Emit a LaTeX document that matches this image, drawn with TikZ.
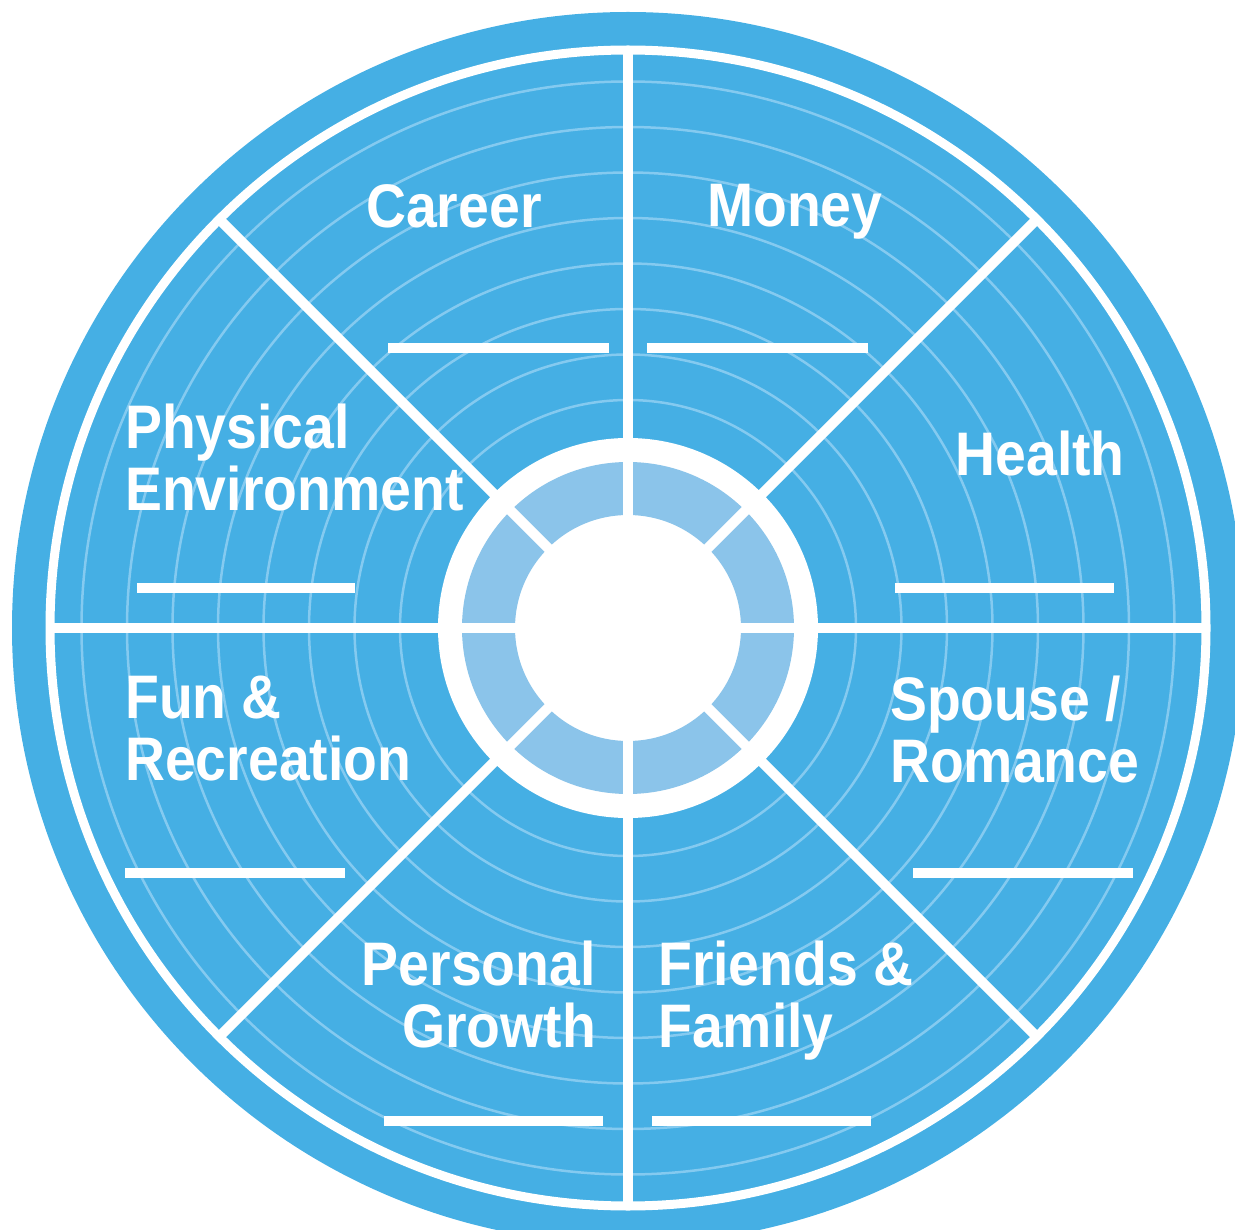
\documentclass[tikz,border=0pt]{standalone}
\usepackage{fontspec}
\newfontfamily\wheelfont[FakeStretch=0.9]{Liberation Sans}
\usetikzlibrary{positioning}
\definecolor{wheelblue}{RGB}{69,175,228}
\definecolor{hubblue}{RGB}{139,196,234}
\definecolor{ringblue}{RGB}{132,202,240}

\begin{document}
\begin{tikzpicture}[x=1pt, y=-1pt,
    area/.style={text=white, inner sep=0pt, font=\wheelfont\bfseries\fontsize{61.5}{62}\selectfont},
    spoke/.style={draw=white, line width=10pt},
    blank/.style={draw=white, line width=10pt}]
        \useasboundingbox (0,0) rectangle (1235,1230);
        \clip (0,0) rectangle (1235,1230);
        \coordinate (o) at (628,628);

        % disc and faint scale rings
        \fill[wheelblue] (o) circle (616);
        \foreach \k in {0,...,7}
            \draw[ringblue, line width=2.5pt] (o) circle ({228+45.5*\k});
        \draw[white, line width=9pt] (o) circle (578);

        % hub
        \fill[white] (o) circle (190);
        \fill[hubblue, even odd rule] (o) circle (166) (o) circle (113);
        \foreach \a in {0,45,...,315} \draw[spoke] (o) -- ++(\a:578);

        % area names
        \node[area, anchor=north west] (career) at (366,184) {Career};
        \node[area, anchor=north west] (money) at (707,184) {Money};
        \node[area, anchor=north west, align=left] (physical) at (125,404) {Physical\\Environment};
        \node[area, anchor=north east] (health) at (1125,431) {Health};
        \node[area, anchor=north west, align=left] (fun) at (125,676) {Fun \&\\Recreation};
        \node[area, anchor=north west, align=left] (spouse) at (890,676) {Spouse /\\Romance};
        \node[area, anchor=north east, align=right] (personal) at (596,941) {Personal\\Growth};
        \node[area, anchor=north west, align=left] (friends) at (658,941) {Friends \&\\Family};

        % blanks for the scores
        \foreach \xa/\xb/\yy in
        {388/609/348,647/868/348,137/355/588,895/1114/588,125/345/873,913/1133/873,384/603/1121,652/871/1121}
            \draw[blank] (\xa,\yy) -- (\xb,\yy);
\end{tikzpicture}
\end{document}
